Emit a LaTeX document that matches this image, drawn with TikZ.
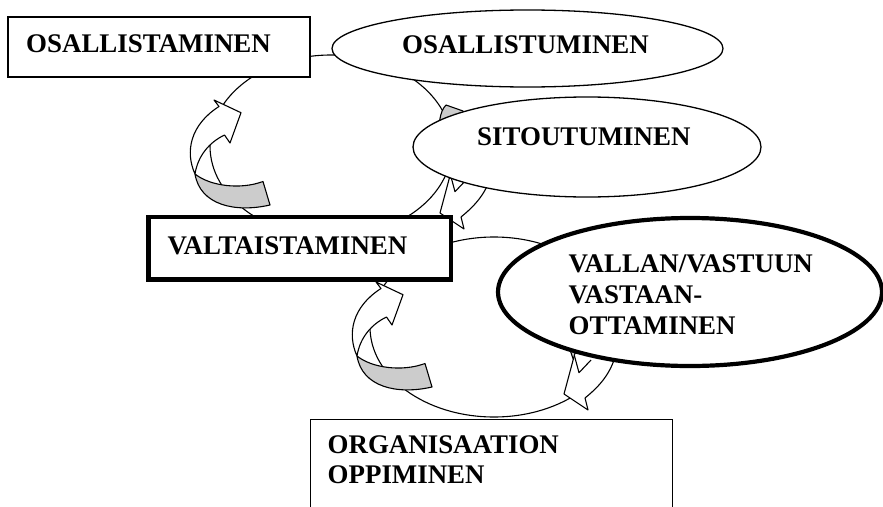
\documentclass[tikz,border=0pt]{standalone}
\usepackage{fontspec}
\setmainfont{Liberation Serif}
\usetikzlibrary{shapes.geometric}
\definecolor{tailgray}{RGB}{204,204,204}
\begin{document}
\begin{tikzpicture}[x=1pt,y=-1pt,
  thinline/.style={line width=1.1pt},
  cycleline/.style={line width=1.1pt},
  plainbox/.style={draw, line width=1.4pt, fill=white, rectangle, inner sep=0pt},
  heavybox/.style={draw, line width=4.5pt, fill=white, rectangle, inner sep=0pt},
  plainoval/.style={draw, line width=1.3pt, fill=white, ellipse, inner sep=0pt},
  heavyoval/.style={draw, line width=4.2pt, fill=white, ellipse, inner sep=0pt},
  boldtext/.style={inner sep=0pt, anchor=base west, font=\fontsize{26.9}{30}\selectfont\bfseries},
  bandfront/.style={draw, line width=1.1pt, fill=white, line join=round},
  bandback/.style={draw, line width=1.1pt, fill=tailgray, line join=round},
  % twisted band arrow turning up to the right (shaded back face at the tail)
  pics/leftcycle/.style={code={
    \filldraw[bandback] (195,174) .. controls (210,186) and (240,190) .. (263,181.5)
      -- (270,205) .. controls (235,213) and (200,205) .. (195,174) -- cycle;
    \filldraw[bandfront] (195,174) .. controls (185,152) and (190,125) .. (219,106.5)
      -- (214,100) -- (241,112.7) -- (230,143) -- (224.5,135)
      .. controls (210,142) and (198,155) .. (195,174) -- cycle;
  }},
  % twisted band arrow coming down from under an oval
  pics/rightcycle/.style={code={
    \filldraw[bandback] (455,192) .. controls (440,160) and (433,118) .. (446,105)
      -- (463,111) .. controls (470,140) and (466,170) .. (455,192) -- cycle;
    \filldraw[bandfront] (451,172) -- (440,213) -- (464,229) -- (461,217)
      .. controls (472,208) and (485,196) .. (491,176) -- cycle;
    \draw[thinline, line join=round] (450.5,175) -- (455,191.7) -- (467,179);
  }},
]
\clip (0,0) rectangle (883,506);

% the two cycles
\draw[cycleline] (331,146) ellipse [x radius=121pt, y radius=91pt];
\draw[cycleline] (494,327) ellipse [x radius=124pt, y radius=90pt];

% turning arrows on the cycles
\pic at (0,0) {leftcycle};
\pic at (162,182) {leftcycle};
\pic at (0,0) {rightcycle};
\pic at (124,181) {rightcycle};

% boxes and ovals
\node[plainbox, minimum width=302pt, minimum height=60pt] (osallistaminen) at (159,47) {};
\node[plainoval, minimum width=391pt, minimum height=77pt] (osallistuminen) at (527.5,48.5) {};
\node[plainoval, minimum width=348pt, minimum height=100pt] (sitoutuminen) at (587,147) {};
\node[heavybox, minimum width=302.5pt, minimum height=62.5pt] (valtaistaminen) at (299.75,248.25) {};
\node[heavyoval, minimum width=384pt, minimum height=148pt] (vastuu) at (690,292) {};
\node[plainbox, minimum width=362pt, minimum height=120pt, anchor=north west] (oppiminen) at (310,419) {};

% texts
\node[boldtext] (t-osallistaminen) at (26,52) {OSALLISTAMINEN};
\node[boldtext] (t-osallistuminen) at (402,53) {OSALLISTUMINEN};
\node[boldtext] (t-sitoutuminen) at (477,145) {SITOUTUMINEN};
\node[boldtext] (t-valtaistaminen) at (167.5,254) {VALTAISTAMINEN};
\node[boldtext] (t-vastuu1) at (568.5,272) {VALLAN/VASTUUN};
\node[boldtext] (t-vastuu2) at (568.5,303) {VASTAAN-};
\node[boldtext] (t-vastuu3) at (568.5,334) {OTTAMINEN};
\node[boldtext] (t-oppiminen1) at (327.5,453) {ORGANISAATION};
\node[boldtext] (t-oppiminen2) at (327.5,483) {OPPIMINEN};
\end{tikzpicture}
\end{document}
